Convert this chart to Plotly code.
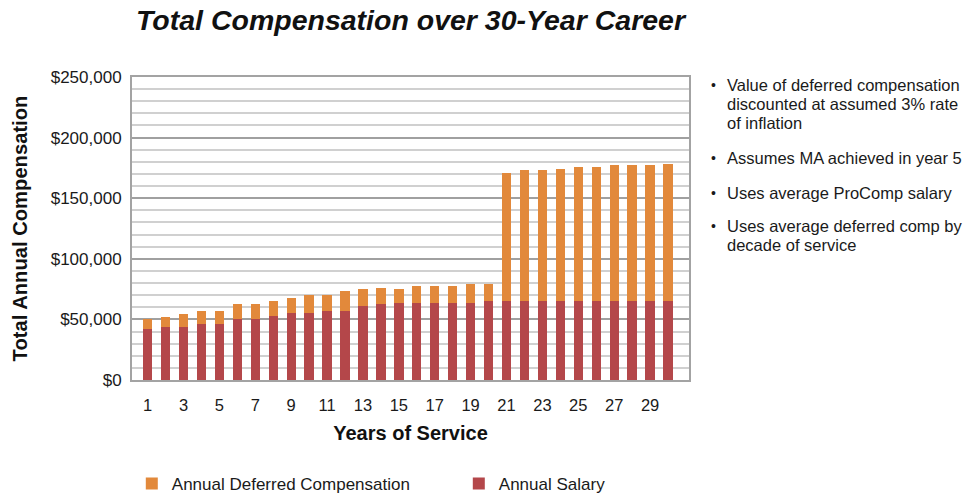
import plotly.graph_objects as go

years = list(range(1, 31))
salary = [42300, 43900, 43900, 46100, 46100, 50500, 50500, 52700, 54900, 54900,
          56600, 56600, 61000, 62900, 63400, 63200, 63200, 63200, 63200, 65100,
          65100, 65300, 65300, 65300, 65300, 65300, 65300, 65300, 65300, 65300]
deferred = [8200, 8300, 10700, 10500, 10500, 12400, 12400, 12600, 12400, 14900,
            13200, 17000, 14200, 12900, 11800, 14500, 14500, 14500, 16400, 14500,
            105700, 108200, 108200, 108500, 110400, 110100, 112000, 112300, 112000, 112600]
y_ticks = [0, 50000, 100000, 150000, 200000, 250000]
y_labels = ["$0", "$50,000", "$100,000", "$150,000", "$200,000", "$250,000"]
x_ticks = list(range(1, 30, 2))
notes = [
    ["Value of deferred compensation", "discounted at assumed 3% rate", "of inflation"],
    ["Assumes MA achieved in year 5"],
    ["Uses average ProComp salary"],
    ["Uses average deferred comp by", "decade of service"],
]
note_line_px = [[84.5, 103.5, 123], [158], [193], [225.5, 245]]

FONT = "Liberation Sans, Arial, sans-serif"
ORANGE = "#E2893B"
RED = "#B4474A"

# page body has an 8px margin: figure is drawn at (8, 8) in the window
OFF = 8
WIN_W, WIN_H = 972, 495
W, H = WIN_W - OFF, WIN_H - OFF
PL, PR, PT, PB = 132, 689, 77, 380  # plot area in window pixels
ML, MR, MT, MB = PL - OFF, WIN_W - PR, PT - OFF, WIN_H - PB
PW = W - ML - MR
PH = H - MT - MB


def px_x(p):
    return (p - PL) / PW


def px_y(p):
    return (PB - p) / PH


fig = go.Figure()
fig.add_trace(go.Bar(x=years, y=salary, name="Annual Salary",
                     marker=dict(color=RED, line=dict(width=0)), width=0.52))
fig.add_trace(go.Bar(x=years, y=deferred, name="Annual Deferred Compensation",
                     marker=dict(color=ORANGE, line=dict(width=0)), width=0.52))

annotations = []
for lines, ys in zip(notes, note_line_px):
    for txt, yy in zip(lines, ys):
        annotations.append(dict(text=txt, xref="paper", yref="paper", x=px_x(725), y=px_y(yy),
                                xanchor="left", yanchor="middle", align="left", showarrow=False,
                                font=dict(family=FONT, size=16.5, color="#1a1a1a")))
    annotations.append(dict(text="•", xref="paper", yref="paper", x=px_x(709), y=px_y(ys[0]),
                            xanchor="left", yanchor="middle", align="left", showarrow=False,
                            font=dict(family=FONT, size=14, color="#1a1a1a")))

fig.update_layout(
    width=W, height=H,
    margin=dict(l=ML, r=MR, t=MT, b=MB, autoexpand=False),
    paper_bgcolor="white", plot_bgcolor="white",
    barmode="stack", bargap=0,
    font=dict(family=FONT, color="#1a1a1a"),
    title=dict(text="<b><i>Total Compensation over 30-Year Career</i></b>",
               x=0.5, xref="paper", y=1 - (20.5 - OFF) / H, yanchor="middle",
               font=dict(family=FONT, size=28.5, color="#111111")),
    xaxis=dict(range=[0.13, 31.17], tickmode="array", tickvals=x_ticks,
               ticktext=[str(v) for v in x_ticks], showgrid=False, zeroline=False,
               showline=True, linecolor="#A3A3A3", linewidth=2, mirror=True,
               ticks="", ticklabelstandoff=9,
               tickfont=dict(family=FONT, size=16.5, color="#1a1a1a"),
               title=dict(text="<b>Years of Service</b>", standoff=13,
                          font=dict(family=FONT, size=20, color="#111111"))),
    yaxis=dict(range=[0, 250000], tickmode="array", tickvals=y_ticks, ticktext=y_labels,
               showgrid=True, gridcolor="#A0A0A0", gridwidth=2, zeroline=False,
               showline=True, linecolor="#A3A3A3", linewidth=2, mirror=True,
               ticks="", ticklabelstandoff=5,
               minor=dict(dtick=10000, showgrid=True, gridcolor="#D0D0D0", gridwidth=1.5),
               tickfont=dict(family=FONT, size=17, color="#1a1a1a"),
               title=dict(text="<b>Total Annual Compensation</b>", standoff=18,
                          font=dict(family=FONT, size=20.2, color="#111111"))),
    legend=dict(orientation="h", traceorder="reversed", x=px_x(131.8), xanchor="left",
                y=px_y(484), yanchor="middle", entrywidth=282, entrywidthmode="pixels",
                font=dict(family=FONT, size=17, color="#1a1a1a"), bgcolor="rgba(0,0,0,0)"),
    annotations=annotations,
    showlegend=True,
)

fig.write_html("out.html")
